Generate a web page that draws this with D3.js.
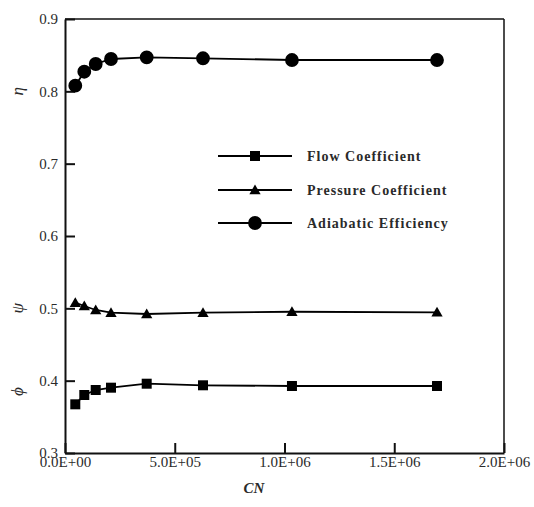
<!DOCTYPE html>
<html><head><meta charset="utf-8">
<script src="https://cdn.jsdelivr.net/npm/d3@7"></script>
<style>body{margin:0;background:#fff}svg{display:block}</style>
</head><body>
<svg id="c" width="534" height="507"></svg>
<script>
const cn = [46900, 87900, 139900, 209600, 372200, 628700, 1034000, 1694800];
const flowCoef = [0.3673, 0.3802, 0.3871, 0.3903, 0.3958, 0.3936, 0.3926, 0.3926];
const pressureCoef = [0.5078, 0.5032, 0.4977, 0.4940, 0.4922, 0.4940, 0.4953, 0.4945];
const adiabaticEff = [0.8078, 0.8271, 0.8378, 0.8447, 0.8470, 0.8457, 0.8433, 0.8433];
const seriesNames = ["Flow Coefficient", "Pressure Coefficient", "Adiabatic Efficiency"];
const xTicks = [0, 500000, 1000000, 1500000, 2000000];
const xTickLabels = ["0.0E+00", "5.0E+05", "1.0E+06", "1.5E+06", "2.0E+06"];
const yTicks = [0.3, 0.4, 0.5, 0.6, 0.7, 0.8, 0.9];
const yTickLabels = ["0.3", "0.4", "0.5", "0.6", "0.7", "0.8", "0.9"];
const xTitle = "CN";
const yLabels = [["η", 0.8], ["ψ", 0.5], ["ϕ", 0.385]];

const svg = d3.select("#c");
const L = 65, R = 504, T = 19, B = 453;
const x = d3.scaleLinear().domain([0, 2000000]).range([L, R]);
const y = d3.scaleLinear().domain([0.3, 0.9]).range([B, T]);
const serif = "'Liberation Serif','Times New Roman',serif";
const textCol = "#2a2a2a";

// frame top/right
svg.append("line").attr("x1", L).attr("x2", R).attr("y1", T).attr("y2", T).attr("stroke", "#111").attr("stroke-width", 1.5);
svg.append("line").attr("x1", R).attr("x2", R).attr("y1", T).attr("y2", B).attr("stroke", "#111").attr("stroke-width", 1.5);

const xAxis = svg.append("g").attr("transform", `translate(0,${B})`)
  .call(d3.axisBottom(x).tickValues(xTicks).tickSize(-10).tickSizeOuter(0)
    .tickFormat((d, i) => xTickLabels[i]).tickPadding(3));
const yAxis = svg.append("g").attr("transform", `translate(${L},0)`)
  .call(d3.axisLeft(y).tickValues(yTicks).tickSize(-10).tickSizeOuter(0)
    .tickFormat((d, i) => yTickLabels[i]).tickPadding(7));
[xAxis, yAxis].forEach(g => {
  g.select(".domain").attr("stroke", "#111").attr("stroke-width", 2);
  g.selectAll(".tick line").attr("stroke", "#111").attr("stroke-width", 2);
  g.selectAll(".tick text").attr("fill", textCol).style("font-family", serif).style("font-size", "15px");
});

// axis titles
svg.append("text").attr("x", 254).attr("y", 493).attr("text-anchor", "middle")
  .style("font-family", serif).style("font-size", "15px").style("font-weight", "bold").style("font-style", "italic")
  .attr("fill", textCol).text(xTitle);
yLabels.forEach(([t, v]) => {
  svg.append("text").attr("transform", `translate(17,${y(v)}) rotate(-90)`).attr("text-anchor", "middle")
    .attr("dy", "0.33em").style("font-family", serif).style("font-size", "17px").style("font-style", "italic")
    .attr("fill", textCol).text(t);
});

const series = [
  {name: seriesNames[0], vals: flowCoef, sym: d3.symbolSquare, size: 100},
  {name: seriesNames[1], vals: pressureCoef, sym: d3.symbolTriangle, size: 55},
  {name: seriesNames[2], vals: adiabaticEff, sym: d3.symbolCircle, size: 150}
];
const line = d3.line().x(d => x(d[0])).y(d => y(d[1]));
series.forEach(s => {
  const pts = cn.map((c, i) => [c, s.vals[i]]);
  svg.append("path").attr("d", line(pts)).attr("fill", "none").attr("stroke", "#000").attr("stroke-width", 1.8);
  svg.selectAll(null).data(pts).enter().append("path")
    .attr("d", d3.symbol().type(s.sym).size(s.size))
    .attr("transform", d => `translate(${x(d[0])},${y(d[1]) + (s.sym === d3.symbolTriangle ? 1 : 0)})`)
    .attr("fill", "#000");
});

// legend
const legY = [156, 190, 223];
series.forEach((s, i) => {
  const g = svg.append("g").attr("transform", `translate(0,${legY[i]})`);
  g.append("line").attr("x1", 218).attr("x2", 292).attr("stroke", "#000").attr("stroke-width", 2);
  g.append("path").attr("d", d3.symbol().type(s.sym).size(s.size)).attr("transform", `translate(255,${s.sym === d3.symbolTriangle ? 1 : 0})`).attr("fill", "#000");
  g.append("text").attr("x", 307).attr("dy", "0.35em").style("font-family", serif).style("font-size", "14px")
    .style("font-weight", "bold").style("letter-spacing", "1px").attr("fill", textCol).text(s.name);
});
</script>
</body></html>
